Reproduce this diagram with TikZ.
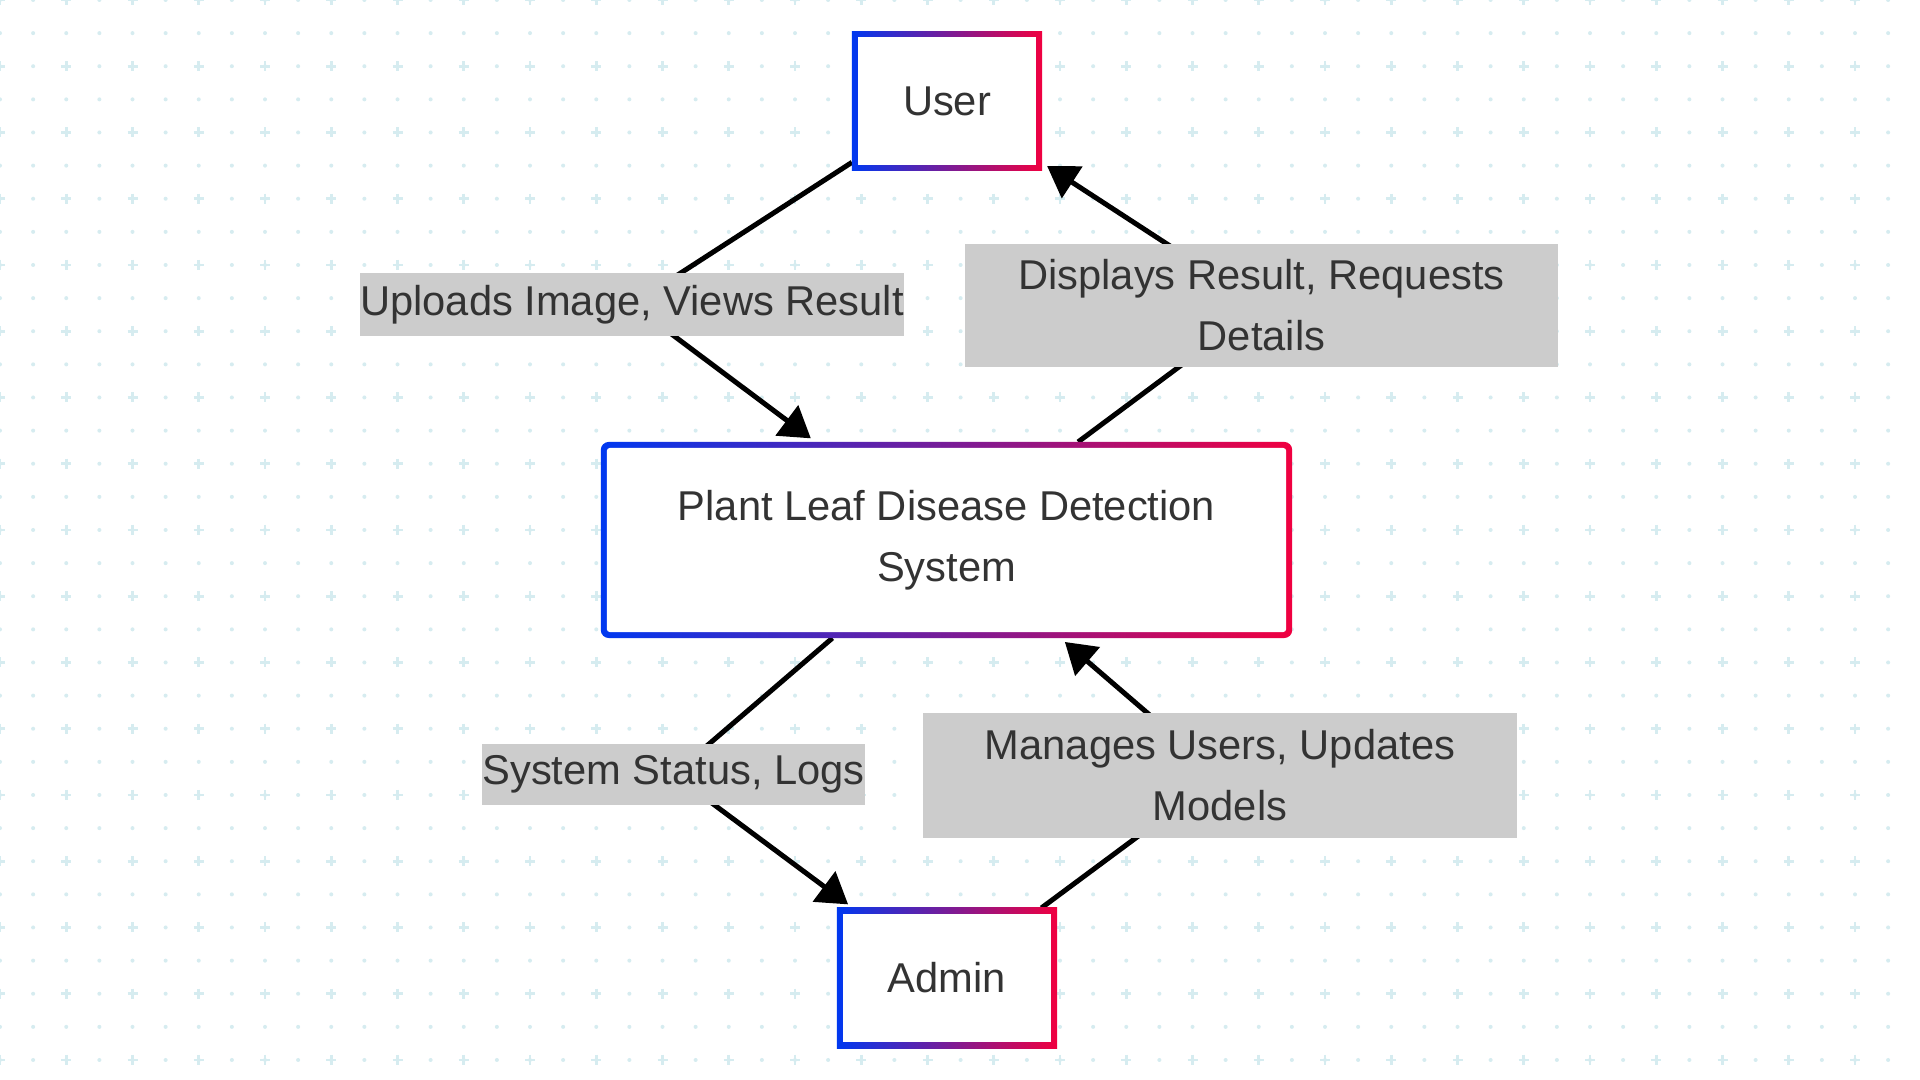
\documentclass[tikz,border=0pt]{standalone}
\usepackage{fontspec}
\setmainfont{Liberation Sans}
\usetikzlibrary{arrows.meta}

\definecolor{gridcyan}{RGB}{214,236,240}
\definecolor{boxblue}{RGB}{0,56,240}
\definecolor{boxred}{RGB}{240,0,64}
\definecolor{labelgray}{RGB}{204,204,204}
\definecolor{textgray}{RGB}{51,51,51}

\pgfdeclarelayer{grid}
\pgfdeclarelayer{edges}
\pgfsetlayers{grid,edges,main}

\tikzset{
    gradbox/.style={inner sep=0pt, outer sep=0pt, left color=boxblue, right color=boxred,
        text=textgray, align=center,
        path picture={\fill[white, rounded corners=#1]
            ([shift={(0.06cm,-0.06cm)}]path picture bounding box.north west) rectangle
            ([shift={(-0.06cm,0.06cm)}]path picture bounding box.south east);}},
    gradbox/.default=0pt,
    flowlabel/.style={fill=labelgray, inner sep=0pt, text=textgray, align=center},
    flow/.style={line width=0.05cm, -{Triangle[length=0.3cm,width=0.37cm]}, shorten >=0.06cm}
}

\begin{document}
\begin{tikzpicture}[x=0.01cm, y=-0.01cm, font=\fontsize{11.85pt}{17.4pt}\selectfont]
    \useasboundingbox (0,0) rectangle (1920,1080);

    % Draw the dotted background
    \begin{pgfonlayer}{grid}
        \fill[white] (0,0) rectangle (1920,1080);
        \foreach \i in {0,...,57}
            \foreach \j in {0,...,32}
                \fill[gridcyan] (\i*33.125,\j*33.125) circle (0.02cm);
        \foreach \i in {0,...,28}
            \foreach \j in {0,...,16}
                \draw[gridcyan, line width=0.027cm] (\i*66.25-5,\j*66.25) -- ++(10,0) (\i*66.25,\j*66.25-5) -- ++(0,10);
    \end{pgfonlayer}

    % Define the positions of the boxes and labels
    \coordinate (userPos) at (947,101);
    \coordinate (systemPos) at (946.5,540);
    \coordinate (adminPos) at (947,978);
    \coordinate (uploadPos) at (632,304.5);
    \coordinate (displayPos) at (1261.5,305.5);
    \coordinate (statusPos) at (673.5,774.5);
    \coordinate (managePos) at (1220,775.5);

    % Draw the boxes
    \node[gradbox, minimum width=1.90cm, minimum height=1.39cm] (user) at (userPos) {User};
    \node[gradbox=0.03cm, rounded corners=0.08cm, minimum width=6.91cm, minimum height=1.96cm] (system) at (systemPos) {Plant Leaf Disease Detection\\System};
    \node[gradbox, minimum width=2.20cm, minimum height=1.40cm] (admin) at (adminPos) {Admin};

    % Draw the labels
    \node[flowlabel, minimum width=5.44cm, minimum height=0.63cm] (uploadLbl) at (uploadPos) {Uploads Image, Views Result};
    \node[flowlabel, minimum width=5.93cm, minimum height=1.23cm] (displayLbl) at (displayPos) {Displays Result, Requests\\Details};
    \node[flowlabel, minimum width=3.83cm, minimum height=0.61cm] (statusLbl) at (statusPos) {System Status, Logs};
    \node[flowlabel, minimum width=5.94cm, minimum height=1.25cm] (manageLbl) at (managePos) {Manages Users, Updates\\Models};

    % Draw the arrows
    \begin{pgfonlayer}{edges}
        \draw[flow] (user) -- (uploadLbl.center) -- (system);
        \draw[flow] (system) -- (displayLbl.center) -- (user);
        \draw[flow] (system) -- (statusLbl.center) -- (admin);
        \draw[flow] (admin) -- (manageLbl.center) -- (system);
    \end{pgfonlayer}
\end{tikzpicture}
\end{document}
